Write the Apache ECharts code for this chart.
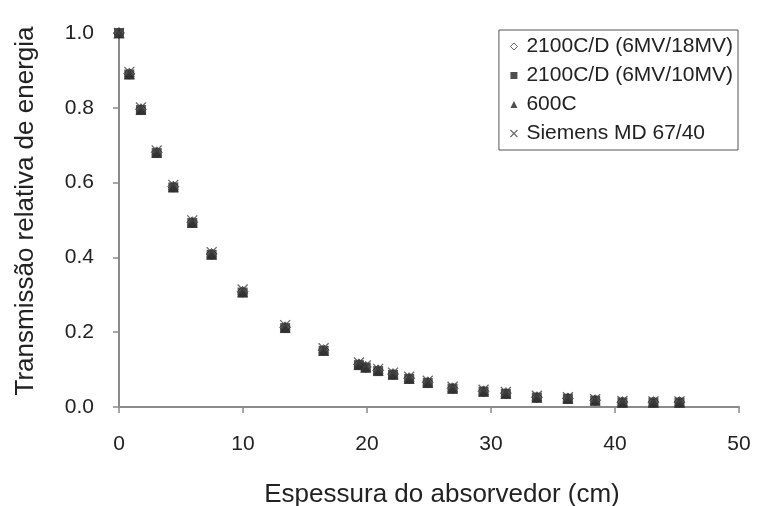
<!DOCTYPE html>
<html><head><meta charset="utf-8">
<script src="https://cdn.jsdelivr.net/npm/echarts@6/dist/echarts.min.js"></script>
<style>html,body{margin:0;padding:0;background:#fff}#c{width:757px;height:506px}</style>
</head><body><div id="c"></div>
<script>
const thickness = [0, 0.83, 1.77, 3.04, 4.38, 5.91, 7.47, 9.97, 13.4, 16.5, 19.35, 19.9, 20.9, 22.1, 23.4, 24.9, 26.9, 29.4, 31.2, 33.7, 36.2, 38.4, 40.6, 43.1, 45.2];
const trans18 = [1.0, 0.891, 0.796, 0.681, 0.589, 0.494, 0.409, 0.308, 0.213, 0.152, 0.114, 0.107, 0.098, 0.088, 0.077, 0.066, 0.050, 0.042, 0.037, 0.026, 0.023, 0.018, 0.013, 0.013, 0.013];
const trans10 = [1.0, 0.889, 0.794, 0.679, 0.587, 0.492, 0.407, 0.306, 0.211, 0.150, 0.112, 0.105, 0.096, 0.086, 0.075, 0.064, 0.049, 0.041, 0.035, 0.025, 0.022, 0.017, 0.012, 0.012, 0.012];
const trans600 = [1.0, 0.891, 0.796, 0.681, 0.589, 0.494, 0.409, 0.308, 0.213, 0.152, 0.114, 0.107, 0.098, 0.088, 0.077, 0.066, 0.050, 0.042, 0.037, 0.026, 0.023, 0.018, 0.013, 0.013, 0.013];
const transSiemens = [1.0, 0.896, 0.801, 0.686, 0.594, 0.499, 0.414, 0.314, 0.219, 0.157, 0.119, 0.111, 0.102, 0.092, 0.081, 0.070, 0.054, 0.046, 0.040, 0.030, 0.026, 0.021, 0.016, 0.015, 0.015];
const seriesNames = ['2100C/D (6MV/18MV)', '2100C/D (6MV/10MV)', '600C', 'Siemens MD 67/40'];
const xTicks = [0, 10, 20, 30, 40, 50];
const yTicks = [0, 0.2, 0.4, 0.6, 0.8, 1.0];

const pair = (xs, ys) => xs.map((x, i) => [x, ys[i]]);
const crossPath = 'path://M0,0L10,10M10,0L0,10';
const font = 'Liberation Sans, Arial, sans-serif';

const chart = echarts.init(document.getElementById('c'), null, {renderer: 'canvas'});
chart.setOption({
  animation: false,
  backgroundColor: '#fff',
  textStyle: {fontFamily: font},
  grid: {left: 119, right: 18, top: 33, bottom: 99, containLabel: false, outerBoundsMode: 'none'},
  legend: {
    orient: 'vertical', right: 19, top: 30,
    backgroundColor: '#fff', borderColor: '#555', borderWidth: 1,
    padding: [6, 5, 6, 9], itemGap: 8, itemWidth: 7, itemHeight: 7,
    textStyle: {fontSize: 21, color: '#222', fontFamily: font, padding: [0, 0, 0, 4]},
    data: [
      {name: seriesNames[0], icon: 'diamond', itemStyle: {color: '#fff', borderColor: '#333', borderWidth: 1}},
      {name: seriesNames[1], icon: 'rect', itemStyle: {color: '#222'}},
      {name: seriesNames[2], icon: 'triangle', itemStyle: {color: '#222'}},
      {name: seriesNames[3], icon: crossPath, itemStyle: {color: 'none', borderColor: '#444', borderWidth: 1.2}}
    ]
  },
  xAxis: {
    type: 'value', min: 0, max: 50, interval: 10,
    name: 'Espessura do absorvedor (cm)', nameLocation: 'middle', nameGap: 75,
    nameTextStyle: {fontSize: 26, color: '#222', padding: [0, 0, 0, 26]},
    axisLine: {show: true, lineStyle: {color: '#8a8a8a', width: 2}},
    axisTick: {show: true, inside: false, length: 6, lineStyle: {color: '#8a8a8a', width: 1.5}},
    axisLabel: {fontSize: 21, color: '#222', margin: 27, formatter: v => xTicks.includes(v) ? String(v) : ''},
    splitLine: {show: false}
  },
  yAxis: {
    type: 'value', min: 0, max: 1.0, interval: 0.2,
    name: 'Transmissão relativa de energia', nameLocation: 'middle', nameGap: 80,
    nameTextStyle: {fontSize: 26, color: '#222', padding: [0, 0, 0, 18]},
    axisLine: {show: true, lineStyle: {color: '#8a8a8a', width: 2}},
    axisTick: {show: true, inside: false, length: 6, lineStyle: {color: '#8a8a8a', width: 1.5}},
    axisLabel: {fontSize: 21, color: '#222', margin: 25, formatter: v => {
      const t = yTicks.find(y => Math.abs(y - v) < 1e-9); return t === undefined ? '' : t.toFixed(1);
    }},
    splitLine: {show: false}
  },
  series: [
    {name: seriesNames[0], type: 'scatter', data: pair(thickness, trans18), symbol: 'diamond', symbolSize: 11,
     itemStyle: {color: '#fff', borderColor: '#333', borderWidth: 1}, z: 2},
    {name: seriesNames[1], type: 'scatter', data: pair(thickness, trans10), symbol: 'rect', symbolSize: 10,
     itemStyle: {color: '#2b2b2b'}, z: 3},
    {name: seriesNames[2], type: 'scatter', data: pair(thickness, trans600), symbol: 'triangle', symbolSize: 11,
     itemStyle: {color: '#2b2b2b'}, z: 4},
    {name: seriesNames[3], type: 'scatter', data: pair(thickness, transSiemens), symbol: crossPath, symbolSize: 10,
     itemStyle: {color: 'none', borderColor: '#444', borderWidth: 1.3}, z: 5}
  ]
});
</script></body></html>
